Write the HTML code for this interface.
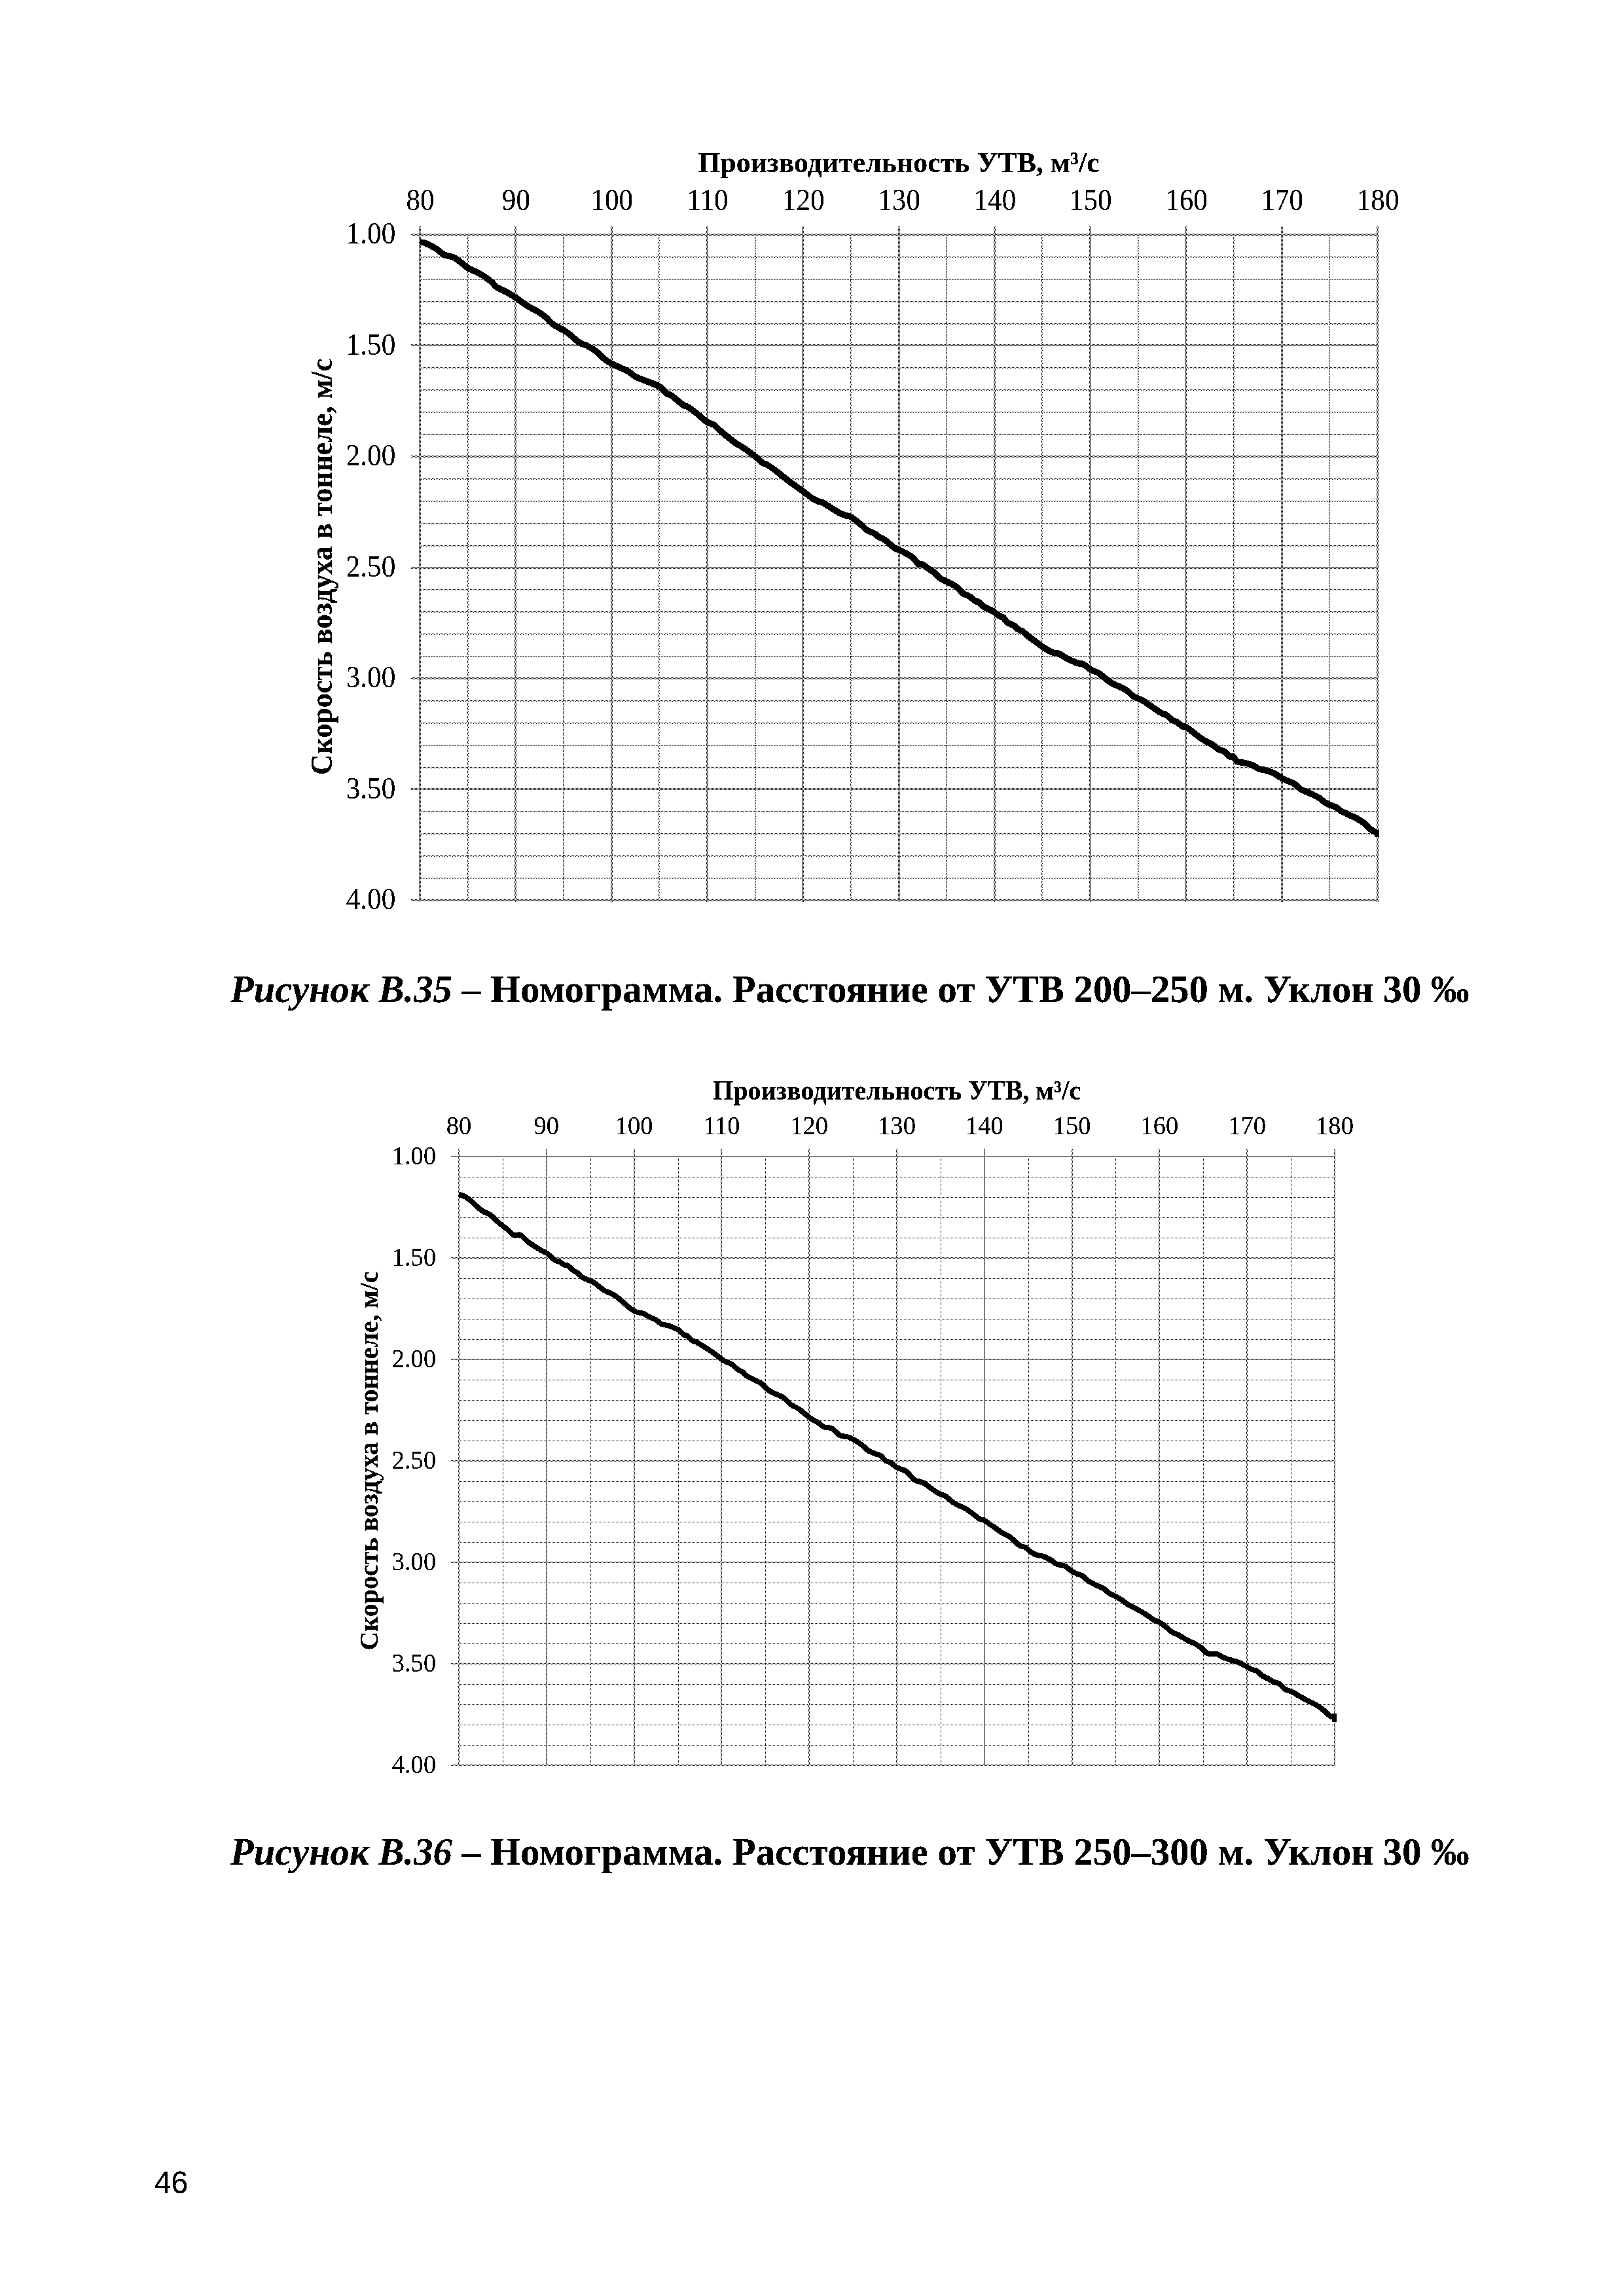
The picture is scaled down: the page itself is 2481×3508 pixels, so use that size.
<!DOCTYPE html>
<html lang="ru"><head><meta charset="utf-8"><title>p46</title>
<style>
html,body{margin:0;padding:0;background:#fff;}
body{width:2481px;height:3508px;position:relative;overflow:hidden;font-family:"Liberation Serif",serif;color:#000;}
svg{position:absolute;left:0;top:0;}
text{font-family:"Liberation Serif",serif;fill:#000;}
.b{font-weight:bold;}
.bi{font-weight:bold;font-style:italic;}
.sans{font-family:"Liberation Sans",sans-serif;}
</style></head><body>
<svg width="2481" height="3508" viewBox="0 0 2481 3508">
<defs>
<pattern id="chk" width="2" height="2" patternUnits="userSpaceOnUse"><rect x="0" y="0" width="1" height="1" fill="#000"/><rect x="1" y="1" width="1" height="1" fill="#000"/></pattern>
<pattern id="mh" width="4" height="2" patternUnits="userSpaceOnUse"><rect x="0" y="0" width="1" height="1" fill="#000"/><rect x="2" y="0" width="1" height="1" fill="#000"/><rect x="1" y="1" width="1" height="1" fill="#000"/></pattern>
<pattern id="mv" width="2" height="4" patternUnits="userSpaceOnUse"><rect x="0" y="0" width="1" height="1" fill="#000"/><rect x="0" y="2" width="1" height="1" fill="#000"/><rect x="1" y="1" width="1" height="1" fill="#000"/></pattern>
<pattern id="dot" width="2" height="2" patternUnits="userSpaceOnUse"><rect x="0" y="0" width="1" height="1" fill="#000"/></pattern>
<filter id="bw" filterUnits="userSpaceOnUse" x="0" y="0" width="2481" height="3508" color-interpolation-filters="sRGB"><feComponentTransfer><feFuncA type="discrete" tableValues="0 0 1 1 1"/></feComponentTransfer></filter>
</defs>
<g shape-rendering="crispEdges">
<rect transform="translate(714 358)" width="2" height="1017" fill="url(#mv)"/>
<rect transform="translate(860 358)" width="2" height="1017" fill="url(#mv)"/>
<rect transform="translate(1006 358)" width="2" height="1017" fill="url(#mv)"/>
<rect transform="translate(1153 358)" width="2" height="1017" fill="url(#mv)"/>
<rect transform="translate(1299 358)" width="2" height="1017" fill="url(#mv)"/>
<rect transform="translate(1445 358)" width="2" height="1017" fill="url(#mv)"/>
<rect transform="translate(1591 358)" width="2" height="1017" fill="url(#mv)"/>
<rect transform="translate(1738 358)" width="2" height="1017" fill="url(#mv)"/>
<rect transform="translate(1884 358)" width="2" height="1017" fill="url(#mv)"/>
<rect transform="translate(2030 358)" width="2" height="1017" fill="url(#mv)"/>
<rect transform="translate(642 392)" width="1463" height="2" fill="url(#mh)"/>
<rect transform="translate(642 426)" width="1463" height="2" fill="url(#mh)"/>
<rect transform="translate(642 460)" width="1463" height="2" fill="url(#mh)"/>
<rect transform="translate(642 494)" width="1463" height="2" fill="url(#mh)"/>
<rect transform="translate(642 561)" width="1463" height="2" fill="url(#mh)"/>
<rect transform="translate(642 595)" width="1463" height="2" fill="url(#mh)"/>
<rect transform="translate(642 629)" width="1463" height="2" fill="url(#mh)"/>
<rect transform="translate(642 663)" width="1463" height="2" fill="url(#mh)"/>
<rect transform="translate(642 731)" width="1463" height="2" fill="url(#mh)"/>
<rect transform="translate(642 765)" width="1463" height="2" fill="url(#mh)"/>
<rect transform="translate(642 799)" width="1463" height="2" fill="url(#mh)"/>
<rect transform="translate(642 833)" width="1463" height="2" fill="url(#mh)"/>
<rect transform="translate(642 900)" width="1463" height="2" fill="url(#mh)"/>
<rect transform="translate(642 934)" width="1463" height="2" fill="url(#mh)"/>
<rect transform="translate(642 968)" width="1463" height="2" fill="url(#mh)"/>
<rect transform="translate(642 1002)" width="1463" height="2" fill="url(#mh)"/>
<rect transform="translate(642 1070)" width="1463" height="2" fill="url(#mh)"/>
<rect transform="translate(642 1104)" width="1463" height="2" fill="url(#mh)"/>
<rect transform="translate(642 1138)" width="1463" height="2" fill="url(#mh)"/>
<rect transform="translate(642 1172)" width="1463" height="2" fill="url(#mh)"/>
<rect transform="translate(642 1239)" width="1463" height="2" fill="url(#mh)"/>
<rect transform="translate(642 1273)" width="1463" height="2" fill="url(#mh)"/>
<rect transform="translate(642 1307)" width="1463" height="2" fill="url(#mh)"/>
<rect transform="translate(642 1341)" width="1463" height="2" fill="url(#mh)"/>
<rect x="640" y="346" width="3" height="1032" fill="#fff"/>
<rect x="786" y="346" width="3" height="1032" fill="#fff"/>
<rect x="933" y="346" width="3" height="1032" fill="#fff"/>
<rect x="1079" y="346" width="3" height="1032" fill="#fff"/>
<rect x="1225" y="346" width="3" height="1032" fill="#fff"/>
<rect x="1372" y="346" width="3" height="1032" fill="#fff"/>
<rect x="1518" y="346" width="3" height="1032" fill="#fff"/>
<rect x="1664" y="346" width="3" height="1032" fill="#fff"/>
<rect x="1810" y="346" width="3" height="1032" fill="#fff"/>
<rect x="1957" y="346" width="3" height="1032" fill="#fff"/>
<rect x="2103" y="346" width="3" height="1032" fill="#fff"/>
<rect x="628" y="357" width="1478" height="3" fill="#fff"/>
<rect x="628" y="526" width="1478" height="3" fill="#fff"/>
<rect x="628" y="696" width="1478" height="3" fill="#fff"/>
<rect x="628" y="866" width="1478" height="3" fill="#fff"/>
<rect x="628" y="1035" width="1478" height="3" fill="#fff"/>
<rect x="628" y="1204" width="1478" height="3" fill="#fff"/>
<rect x="628" y="1374" width="1478" height="3" fill="#fff"/>
<rect x="640" y="346" width="3" height="1032" fill="url(#chk)"/>
<rect x="786" y="346" width="3" height="1032" fill="url(#chk)"/>
<rect x="933" y="346" width="3" height="1032" fill="url(#chk)"/>
<rect x="1079" y="346" width="3" height="1032" fill="url(#chk)"/>
<rect x="1225" y="346" width="3" height="1032" fill="url(#chk)"/>
<rect x="1372" y="346" width="3" height="1032" fill="url(#chk)"/>
<rect x="1518" y="346" width="3" height="1032" fill="url(#chk)"/>
<rect x="1664" y="346" width="3" height="1032" fill="url(#chk)"/>
<rect x="1810" y="346" width="3" height="1032" fill="url(#chk)"/>
<rect x="1957" y="346" width="3" height="1032" fill="url(#chk)"/>
<rect x="2103" y="346" width="3" height="1032" fill="url(#chk)"/>
<rect x="628" y="357" width="1478" height="3" fill="url(#chk)"/>
<rect x="628" y="526" width="1478" height="3" fill="url(#chk)"/>
<rect x="628" y="696" width="1478" height="3" fill="url(#chk)"/>
<rect x="628" y="866" width="1478" height="3" fill="url(#chk)"/>
<rect x="628" y="1035" width="1478" height="3" fill="url(#chk)"/>
<rect x="628" y="1204" width="1478" height="3" fill="url(#chk)"/>
<rect x="628" y="1374" width="1478" height="3" fill="url(#chk)"/>
</g>
<g shape-rendering="crispEdges">
<rect transform="translate(768 1767)" width="1" height="930" fill="url(#dot)"/>
<rect transform="translate(902 1767)" width="1" height="930" fill="url(#dot)"/>
<rect transform="translate(1036 1767)" width="1" height="930" fill="url(#dot)"/>
<rect transform="translate(1169 1767)" width="1" height="930" fill="url(#dot)"/>
<rect transform="translate(1303 1767)" width="1" height="930" fill="url(#dot)"/>
<rect transform="translate(1437 1767)" width="1" height="930" fill="url(#dot)"/>
<rect transform="translate(1571 1767)" width="1" height="930" fill="url(#dot)"/>
<rect transform="translate(1704 1767)" width="1" height="930" fill="url(#dot)"/>
<rect transform="translate(1838 1767)" width="1" height="930" fill="url(#dot)"/>
<rect transform="translate(1972 1767)" width="1" height="930" fill="url(#dot)"/>
<rect transform="translate(701 1798)" width="1338" height="1" fill="url(#dot)"/>
<rect transform="translate(701 1829)" width="1338" height="1" fill="url(#dot)"/>
<rect transform="translate(701 1860)" width="1338" height="1" fill="url(#dot)"/>
<rect transform="translate(701 1891)" width="1338" height="1" fill="url(#dot)"/>
<rect transform="translate(701 1953)" width="1338" height="1" fill="url(#dot)"/>
<rect transform="translate(701 1984)" width="1338" height="1" fill="url(#dot)"/>
<rect transform="translate(701 2015)" width="1338" height="1" fill="url(#dot)"/>
<rect transform="translate(701 2046)" width="1338" height="1" fill="url(#dot)"/>
<rect transform="translate(701 2108)" width="1338" height="1" fill="url(#dot)"/>
<rect transform="translate(701 2139)" width="1338" height="1" fill="url(#dot)"/>
<rect transform="translate(701 2170)" width="1338" height="1" fill="url(#dot)"/>
<rect transform="translate(701 2201)" width="1338" height="1" fill="url(#dot)"/>
<rect transform="translate(701 2263)" width="1338" height="1" fill="url(#dot)"/>
<rect transform="translate(701 2294)" width="1338" height="1" fill="url(#dot)"/>
<rect transform="translate(701 2325)" width="1338" height="1" fill="url(#dot)"/>
<rect transform="translate(701 2356)" width="1338" height="1" fill="url(#dot)"/>
<rect transform="translate(701 2418)" width="1338" height="1" fill="url(#dot)"/>
<rect transform="translate(701 2449)" width="1338" height="1" fill="url(#dot)"/>
<rect transform="translate(701 2480)" width="1338" height="1" fill="url(#dot)"/>
<rect transform="translate(701 2511)" width="1338" height="1" fill="url(#dot)"/>
<rect transform="translate(701 2573)" width="1338" height="1" fill="url(#dot)"/>
<rect transform="translate(701 2604)" width="1338" height="1" fill="url(#dot)"/>
<rect transform="translate(701 2635)" width="1338" height="1" fill="url(#dot)"/>
<rect transform="translate(701 2666)" width="1338" height="1" fill="url(#dot)"/>
<rect x="700" y="1755" width="2" height="943" fill="#fff"/>
<rect x="834" y="1755" width="2" height="943" fill="#fff"/>
<rect x="968" y="1755" width="2" height="943" fill="#fff"/>
<rect x="1101" y="1755" width="2" height="943" fill="#fff"/>
<rect x="1235" y="1755" width="2" height="943" fill="#fff"/>
<rect x="1369" y="1755" width="2" height="943" fill="#fff"/>
<rect x="1503" y="1755" width="2" height="943" fill="#fff"/>
<rect x="1637" y="1755" width="2" height="943" fill="#fff"/>
<rect x="1770" y="1755" width="2" height="943" fill="#fff"/>
<rect x="1904" y="1755" width="2" height="943" fill="#fff"/>
<rect x="2038" y="1755" width="2" height="943" fill="#fff"/>
<rect x="689" y="1766" width="1351" height="2" fill="#fff"/>
<rect x="689" y="1921" width="1351" height="2" fill="#fff"/>
<rect x="689" y="2076" width="1351" height="2" fill="#fff"/>
<rect x="689" y="2231" width="1351" height="2" fill="#fff"/>
<rect x="689" y="2386" width="1351" height="2" fill="#fff"/>
<rect x="689" y="2541" width="1351" height="2" fill="#fff"/>
<rect x="689" y="2696" width="1351" height="2" fill="#fff"/>
<rect x="700" y="1755" width="2" height="943" fill="url(#chk)"/>
<rect x="834" y="1755" width="2" height="943" fill="url(#chk)"/>
<rect x="968" y="1755" width="2" height="943" fill="url(#chk)"/>
<rect x="1101" y="1755" width="2" height="943" fill="url(#chk)"/>
<rect x="1235" y="1755" width="2" height="943" fill="url(#chk)"/>
<rect x="1369" y="1755" width="2" height="943" fill="url(#chk)"/>
<rect x="1503" y="1755" width="2" height="943" fill="url(#chk)"/>
<rect x="1637" y="1755" width="2" height="943" fill="url(#chk)"/>
<rect x="1770" y="1755" width="2" height="943" fill="url(#chk)"/>
<rect x="1904" y="1755" width="2" height="943" fill="url(#chk)"/>
<rect x="2038" y="1755" width="2" height="943" fill="url(#chk)"/>
<rect x="689" y="1766" width="1351" height="2" fill="url(#chk)"/>
<rect x="689" y="1921" width="1351" height="2" fill="url(#chk)"/>
<rect x="689" y="2076" width="1351" height="2" fill="url(#chk)"/>
<rect x="689" y="2231" width="1351" height="2" fill="url(#chk)"/>
<rect x="689" y="2386" width="1351" height="2" fill="url(#chk)"/>
<rect x="689" y="2541" width="1351" height="2" fill="url(#chk)"/>
<rect x="689" y="2696" width="1351" height="2" fill="url(#chk)"/>
</g>
<g filter="url(#bw)">
<path d="M641.6 370.2C643.1 370.4 646.7 370.1 650.8 371.7C654.9 373.4 661.6 377.1 666.2 380.0C670.8 382.9 674.1 387.1 678.5 389.3C682.9 391.4 688.2 391.2 692.4 393.0C696.5 394.8 699.4 397.3 703.1 400.0C706.8 402.8 709.9 406.5 714.5 409.3C719.1 412.1 725.0 413.6 730.8 417.0C736.6 420.3 744.7 425.7 749.3 429.3C753.9 432.9 754.4 435.7 758.5 438.5C762.7 441.3 769.1 443.6 773.9 446.2C778.8 448.9 782.7 451.1 787.8 454.5C792.9 458.0 798.8 463.1 804.7 466.8C810.6 470.6 818.1 473.8 823.2 477.0C828.3 480.2 831.9 483.2 835.5 486.2C839.1 489.3 839.6 491.9 844.8 495.5C849.9 499.1 859.6 503.2 866.3 507.8C873.0 512.4 879.6 519.8 884.8 523.2C889.9 526.6 892.7 526.1 897.1 528.4C901.5 530.7 906.6 533.7 910.9 537.0C915.3 540.4 919.4 545.4 923.3 548.4C927.1 551.5 928.1 552.4 934.0 555.5C939.9 558.6 952.5 563.6 958.7 566.9C964.8 570.2 965.9 572.8 971.0 575.5C976.1 578.2 983.3 580.7 989.5 583.2C995.6 585.8 1003.1 587.9 1007.9 590.9C1012.8 593.9 1015.6 598.8 1018.7 601.1C1021.8 603.4 1022.3 601.9 1026.4 604.8C1030.5 607.7 1039.2 615.8 1043.3 618.6C1047.4 621.5 1047.7 619.7 1051.0 621.7C1054.4 623.8 1058.5 627.1 1063.3 630.9C1068.2 634.8 1075.7 641.7 1080.3 644.8C1084.9 647.9 1087.5 647.0 1091.1 649.4C1094.6 651.8 1096.5 654.8 1101.5 659.1C1106.6 663.4 1115.9 671.2 1121.6 675.4C1127.2 679.6 1130.0 680.3 1135.4 684.0C1140.8 687.7 1149.0 693.7 1153.9 697.6C1158.8 701.4 1161.6 705.0 1164.7 707.1C1167.7 709.2 1168.8 708.0 1172.4 710.2C1175.9 712.4 1180.3 715.6 1186.2 720.0C1192.1 724.5 1201.1 732.0 1207.8 737.0C1214.4 742.0 1220.8 746.3 1226.2 750.2C1231.6 754.2 1236.0 758.0 1240.1 760.7C1244.2 763.4 1248.0 765.1 1250.9 766.2C1253.7 767.4 1254.5 766.5 1257.0 767.8C1259.6 769.1 1262.2 771.4 1266.3 773.9C1270.4 776.5 1277.3 780.9 1281.7 783.2C1286.0 785.5 1289.3 786.7 1292.4 787.8C1295.5 788.9 1296.0 787.4 1300.1 789.9C1304.2 792.5 1313.0 799.8 1317.1 803.2C1321.2 806.6 1321.7 808.3 1324.8 810.3C1327.8 812.2 1332.5 813.1 1335.5 814.9C1338.6 816.6 1340.4 819.0 1343.2 820.7C1346.0 822.5 1348.6 822.6 1352.5 825.3C1356.3 828.1 1362.0 834.2 1366.3 837.0C1370.7 839.9 1374.0 840.1 1378.6 842.6C1383.3 845.0 1389.9 848.6 1394.0 851.8C1398.1 855.0 1400.7 859.9 1403.3 861.7C1405.8 863.4 1407.1 861.3 1409.4 862.3C1411.7 863.3 1414.3 865.9 1417.1 867.8C1419.9 869.8 1423.0 871.3 1426.4 874.0C1429.7 876.7 1433.5 881.6 1437.1 884.2C1440.7 886.7 1443.8 887.2 1447.9 889.4C1452.0 891.5 1457.9 894.3 1461.8 897.1C1465.6 899.9 1467.7 903.9 1471.0 906.3C1474.3 908.7 1478.7 909.6 1481.8 911.6C1484.9 913.5 1487.2 916.6 1489.5 918.0C1491.8 919.5 1493.3 918.6 1495.6 920.2C1497.9 921.7 1499.7 924.9 1503.3 927.3C1506.9 929.6 1513.3 931.7 1517.2 934.0C1521.0 936.3 1523.9 939.6 1526.4 941.1C1529.0 942.6 1530.5 941.6 1532.6 943.3C1534.6 944.9 1535.9 948.8 1538.7 951.0C1541.6 953.1 1546.7 954.4 1549.5 956.2C1552.3 958.0 1553.6 960.4 1555.7 961.7C1557.7 963.1 1559.3 962.4 1561.8 964.2C1564.4 966.0 1567.8 969.9 1571.1 972.5C1574.4 975.1 1577.7 977.0 1581.7 980.0C1585.6 982.9 1590.3 987.0 1595.0 989.9C1599.7 992.9 1606.3 996.2 1609.9 997.6C1613.5 999.0 1613.3 996.9 1616.6 998.2C1619.9 999.6 1624.9 1003.4 1629.9 1005.9C1634.9 1008.4 1642.3 1011.7 1646.5 1013.2C1650.7 1014.7 1651.2 1013.0 1654.8 1014.9C1658.4 1016.7 1664.0 1021.8 1668.1 1024.2C1672.3 1026.6 1675.0 1026.1 1679.8 1029.2C1684.5 1032.2 1689.7 1038.4 1696.4 1042.5C1703.0 1046.6 1713.8 1050.2 1719.7 1053.8C1725.5 1057.3 1726.9 1060.9 1731.3 1063.7C1735.7 1066.6 1739.3 1066.6 1746.3 1070.7C1753.2 1074.9 1767.0 1085.1 1772.9 1088.7C1778.7 1092.2 1778.1 1090.1 1781.2 1092.0C1784.2 1093.9 1788.4 1098.5 1791.1 1100.3C1793.9 1102.1 1795.3 1101.4 1797.8 1103.0C1800.3 1104.5 1803.6 1108.2 1806.1 1109.6C1808.6 1111.0 1807.8 1108.1 1812.8 1111.3C1817.7 1114.5 1829.7 1124.6 1836.0 1128.9C1842.4 1133.2 1846.8 1134.3 1851.0 1136.9C1855.2 1139.5 1857.6 1142.6 1861.0 1144.5C1864.3 1146.5 1868.0 1146.6 1870.9 1148.5C1873.9 1150.5 1876.4 1154.9 1878.6 1156.2C1880.8 1157.5 1882.4 1154.9 1884.2 1156.2C1886.1 1157.5 1887.4 1162.3 1889.9 1163.8C1892.4 1165.3 1895.2 1164.2 1899.2 1165.2C1903.3 1166.1 1910.3 1167.9 1914.2 1169.5C1918.1 1171.0 1919.4 1173.3 1922.5 1174.5C1925.5 1175.7 1928.6 1175.7 1932.5 1176.8C1936.3 1177.9 1941.3 1179.0 1945.8 1181.1C1950.2 1183.2 1953.8 1186.7 1959.1 1189.4C1964.3 1192.2 1972.6 1195.0 1977.4 1197.7C1982.1 1200.5 1983.7 1203.8 1987.3 1206.1C1990.9 1208.3 1994.3 1208.8 1999.0 1211.0C2003.7 1213.3 2011.2 1216.7 2015.6 1219.4C2020.0 1222.0 2021.4 1224.7 2025.6 1227.0C2029.7 1229.3 2036.7 1231.3 2040.5 1233.3C2044.4 1235.4 2046.3 1237.9 2048.8 1239.3C2051.3 1240.8 2053.3 1240.9 2055.5 1242.0C2057.7 1243.1 2059.9 1244.9 2062.1 1246.0C2064.4 1247.0 2064.9 1246.2 2068.8 1248.3C2072.7 1250.4 2081.5 1255.7 2085.4 1258.6C2089.3 1261.5 2089.0 1263.6 2092.1 1265.9C2095.1 1268.2 2101.8 1271.5 2103.7 1272.6" fill="none" stroke="#000" stroke-width="9.5" stroke-linejoin="round" stroke-linecap="butt"/>
<text transform="translate(642.1 321.0) scale(0.950 1)" font-size="45.4" text-anchor="middle">80</text>
<text transform="translate(788.4 321.0) scale(0.950 1)" font-size="45.4" text-anchor="middle">90</text>
<text transform="translate(934.7 321.0) scale(0.950 1)" font-size="45.4" text-anchor="middle">100</text>
<text transform="translate(1081.0 321.0) scale(0.950 1)" font-size="45.4" text-anchor="middle">110</text>
<text transform="translate(1227.3 321.0) scale(0.950 1)" font-size="45.4" text-anchor="middle">120</text>
<text transform="translate(1373.6 321.0) scale(0.950 1)" font-size="45.4" text-anchor="middle">130</text>
<text transform="translate(1519.9 321.0) scale(0.950 1)" font-size="45.4" text-anchor="middle">140</text>
<text transform="translate(1666.2 321.0) scale(0.950 1)" font-size="45.4" text-anchor="middle">150</text>
<text transform="translate(1812.5 321.0) scale(0.950 1)" font-size="45.4" text-anchor="middle">160</text>
<text transform="translate(1958.8 321.0) scale(0.950 1)" font-size="45.4" text-anchor="middle">170</text>
<text transform="translate(2105.1 321.0) scale(0.950 1)" font-size="45.4" text-anchor="middle">180</text>
<text transform="translate(604.2 372.1) scale(0.950 1)" font-size="45.4" text-anchor="end">1.00</text>
<text transform="translate(604.2 541.6) scale(0.950 1)" font-size="45.4" text-anchor="end">1.50</text>
<text transform="translate(604.2 711.1) scale(0.950 1)" font-size="45.4" text-anchor="end">2.00</text>
<text transform="translate(604.2 880.6) scale(0.950 1)" font-size="45.4" text-anchor="end">2.50</text>
<text transform="translate(604.2 1050.1) scale(0.950 1)" font-size="45.4" text-anchor="end">3.00</text>
<text transform="translate(604.2 1219.6) scale(0.950 1)" font-size="45.4" text-anchor="end">3.50</text>
<text transform="translate(604.2 1389.1) scale(0.950 1)" font-size="45.4" text-anchor="end">4.00</text>
<text class="b" x="1373.0" y="262.8" font-size="45.0" text-anchor="middle" textLength="613.5" lengthAdjust="spacingAndGlyphs">Производительность УТВ, м³/с</text>
<text class="b" transform="translate(506.8 866.0) rotate(-90)" font-size="46.2" text-anchor="middle" textLength="636.0" lengthAdjust="spacingAndGlyphs">Скорость воздуха в тоннеле, м/с</text>
<rect x="2100.5" y="1268" width="6.5" height="11" fill="#000"/>
<path d="M700.9 1824.8C702.6 1825.4 707.6 1826.8 710.8 1828.5C714.0 1830.3 716.7 1832.5 720.0 1835.3C723.4 1838.1 727.7 1842.8 730.8 1845.4C733.9 1848.1 735.4 1849.2 738.5 1851.0C741.6 1852.8 745.7 1853.7 749.3 1856.2C752.9 1858.8 756.7 1863.4 760.0 1866.4C763.4 1869.4 766.7 1872.1 769.3 1874.1C771.9 1876.1 772.9 1876.2 775.4 1878.4C778.0 1880.5 781.3 1885.6 784.7 1887.0C788.0 1888.4 791.9 1885.3 795.5 1887.0C799.0 1888.7 802.9 1894.4 806.2 1897.2C809.6 1899.9 811.9 1901.0 815.5 1903.3C819.1 1905.6 824.4 1909.1 827.8 1911.0C831.1 1912.9 832.1 1912.3 835.5 1914.7C838.8 1917.1 844.5 1923.3 847.8 1925.5C851.1 1927.7 853.2 1926.8 855.5 1928.0C857.8 1929.1 859.6 1931.3 861.7 1932.3C863.7 1933.2 865.5 1932.4 867.8 1933.8C870.1 1935.2 873.2 1939.1 875.5 1940.9C877.8 1942.7 879.1 1942.7 881.7 1944.6C884.2 1946.5 888.1 1950.4 890.9 1952.3C893.7 1954.1 895.8 1954.4 898.6 1955.7C901.4 1956.9 903.7 1957.3 907.8 1960.0C911.9 1962.6 919.1 1969.1 923.2 1971.7C927.3 1974.3 929.4 1974.1 932.5 1975.7C935.5 1977.2 938.4 1978.5 941.7 1980.9C945.0 1983.3 948.9 1987.1 952.5 1990.1C956.1 1993.2 959.9 1997.0 963.3 1999.4C966.6 2001.8 969.2 2003.3 972.5 2004.6C975.8 2005.9 980.2 2005.9 983.3 2007.1C986.3 2008.3 987.9 2010.2 991.0 2011.7C994.0 2013.2 998.4 2014.4 1001.7 2016.3C1005.1 2018.3 1007.9 2022.0 1011.0 2023.4C1014.1 2024.8 1017.4 2024.2 1020.2 2024.9C1023.0 2025.7 1025.1 2026.8 1027.9 2028.0C1030.7 2029.2 1034.3 2030.4 1037.1 2032.3C1040.0 2034.2 1042.5 2037.8 1044.8 2039.4C1047.1 2041.0 1048.9 2040.4 1051.0 2041.9C1053.1 2043.3 1055.1 2046.6 1057.2 2048.0C1059.2 2049.4 1061.0 2049.1 1063.3 2050.2C1065.6 2051.3 1067.7 2052.8 1071.0 2054.8C1074.3 2056.9 1079.5 2059.9 1083.3 2062.5C1087.2 2065.1 1090.3 2067.4 1094.1 2070.2C1097.9 2073.0 1102.6 2077.1 1106.4 2079.4C1110.3 2081.7 1113.9 2082.0 1117.2 2084.1C1120.5 2086.1 1123.3 2089.6 1126.4 2091.7C1129.5 2093.9 1133.4 2095.3 1135.7 2097.0C1137.9 2098.6 1135.4 2098.7 1140.0 2101.6C1144.6 2104.4 1157.4 2110.1 1163.1 2113.9C1168.7 2117.6 1170.0 2121.3 1173.9 2124.0C1177.7 2126.8 1182.3 2128.3 1186.2 2130.2C1190.0 2132.1 1193.1 2132.7 1197.0 2135.4C1200.8 2138.2 1205.4 2144.0 1209.3 2146.8C1213.1 2149.6 1215.4 2149.1 1220.0 2152.4C1224.7 2155.6 1232.1 2162.7 1237.0 2166.2C1241.9 2169.7 1245.7 2171.0 1249.3 2173.3C1252.9 2175.6 1254.9 2178.5 1258.5 2180.1C1262.1 2181.6 1266.7 2180.4 1270.8 2182.5C1275.0 2184.7 1279.1 2190.8 1283.2 2193.0C1287.3 2195.2 1291.6 2194.2 1295.5 2195.5C1299.3 2196.8 1302.4 2198.4 1306.3 2200.7C1310.1 2203.0 1315.2 2206.7 1318.6 2209.3C1321.9 2211.9 1323.2 2214.5 1326.3 2216.4C1329.3 2218.4 1333.7 2219.6 1337.0 2221.0C1340.4 2222.4 1343.7 2223.0 1346.3 2224.7C1348.8 2226.5 1350.1 2229.8 1352.4 2231.5C1354.7 2233.1 1357.3 2232.9 1360.1 2234.6C1363.0 2236.3 1365.3 2239.3 1369.4 2241.7C1373.5 2244.0 1380.1 2245.2 1384.8 2248.4C1389.4 2251.7 1392.7 2258.2 1397.1 2261.0C1401.4 2263.9 1407.1 2263.8 1410.9 2265.7C1414.8 2267.6 1416.3 2269.8 1420.2 2272.4C1424.0 2275.1 1429.9 2279.4 1434.0 2281.7C1438.1 2284.0 1441.5 2284.2 1444.8 2286.3C1448.1 2288.3 1451.0 2291.8 1454.0 2294.0C1457.1 2296.2 1459.7 2297.6 1463.3 2299.5C1466.9 2301.4 1471.7 2303.1 1475.6 2305.4C1479.4 2307.6 1482.8 2310.5 1486.4 2313.1C1490.0 2315.7 1494.3 2319.5 1497.1 2321.1C1500.0 2322.7 1500.5 2321.1 1503.3 2322.6C1506.1 2324.2 1511.3 2328.4 1514.1 2330.3C1516.9 2332.2 1517.7 2332.2 1520.2 2334.0C1522.8 2335.8 1525.6 2338.7 1529.5 2341.1C1533.3 2343.5 1538.7 2345.1 1543.3 2348.5C1547.9 2351.8 1553.3 2358.5 1557.2 2361.1C1561.0 2363.7 1563.3 2362.4 1566.4 2364.2C1569.5 2366.0 1572.6 2369.9 1575.7 2371.9C1578.7 2373.9 1581.8 2375.2 1584.9 2376.2C1588.0 2377.2 1590.8 2376.9 1594.1 2378.0C1597.5 2379.2 1601.8 2381.5 1604.9 2383.3C1608.0 2385.1 1610.0 2387.4 1612.6 2388.8C1615.2 2390.2 1618.0 2391.0 1620.3 2391.6C1622.6 2392.2 1624.4 2391.6 1626.5 2392.5C1628.5 2393.4 1629.8 2395.3 1632.6 2397.1C1635.4 2399.0 1639.6 2402.0 1643.1 2403.7C1646.6 2405.5 1650.8 2405.9 1653.9 2407.7C1657.0 2409.6 1658.2 2412.5 1661.6 2414.8C1664.9 2417.1 1669.8 2419.5 1673.9 2421.6C1678.0 2423.6 1682.9 2425.1 1686.2 2427.1C1689.5 2429.2 1690.8 2431.9 1693.9 2433.9C1697.0 2436.0 1701.3 2437.6 1704.7 2439.4C1708.0 2441.2 1710.8 2442.7 1713.9 2444.7C1717.0 2446.7 1719.0 2449.0 1723.2 2451.5C1727.3 2453.9 1733.7 2456.7 1738.5 2459.5C1743.4 2462.2 1748.6 2465.3 1752.4 2467.8C1756.2 2470.3 1758.3 2472.6 1761.6 2474.5C1765.0 2476.4 1769.1 2477.2 1772.4 2479.2C1775.7 2481.1 1778.6 2483.8 1781.7 2486.2C1784.7 2488.7 1787.8 2492.0 1790.9 2493.9C1794.0 2495.9 1796.3 2495.9 1800.1 2497.9C1804.0 2500.0 1809.6 2503.9 1814.0 2506.3C1818.3 2508.6 1822.7 2509.8 1826.3 2511.8C1829.9 2513.7 1832.5 2515.5 1835.5 2518.0C1838.6 2520.4 1840.9 2524.8 1844.8 2526.3C1848.6 2527.8 1854.8 2526.0 1858.6 2526.9C1862.5 2527.8 1864.3 2530.2 1867.9 2531.8C1871.4 2533.4 1876.3 2535.1 1880.2 2536.4C1884.0 2537.7 1887.1 2538.0 1890.9 2539.5C1894.8 2541.0 1899.7 2543.8 1903.3 2545.7C1906.9 2547.6 1909.7 2549.7 1912.5 2550.9C1915.3 2552.1 1917.6 2551.5 1920.2 2553.1C1922.8 2554.6 1925.1 2558.2 1927.9 2560.1C1930.7 2562.1 1934.1 2563.1 1937.1 2564.8C1940.2 2566.4 1943.5 2568.7 1946.4 2570.0C1949.2 2571.3 1951.2 2570.6 1954.1 2572.5C1956.9 2574.3 1960.0 2579.0 1963.3 2581.1C1966.6 2583.1 1970.5 2583.0 1974.1 2584.8C1977.7 2586.5 1981.0 2589.3 1984.9 2591.5C1988.7 2593.7 1993.1 2595.9 1997.2 2598.0C2001.3 2600.1 2005.1 2601.5 2009.5 2604.2C2013.8 2606.8 2019.5 2611.0 2023.3 2614.0C2027.2 2617.0 2030.0 2620.7 2032.6 2622.3C2035.1 2624.0 2037.7 2623.6 2038.7 2623.9" fill="none" stroke="#000" stroke-width="8.0" stroke-linejoin="round" stroke-linecap="butt"/>
<text transform="translate(701.0 1733.0) scale(0.955 1)" font-size="40.4" text-anchor="middle">80</text>
<text transform="translate(834.8 1733.0) scale(0.955 1)" font-size="40.4" text-anchor="middle">90</text>
<text transform="translate(968.6 1733.0) scale(0.955 1)" font-size="40.4" text-anchor="middle">100</text>
<text transform="translate(1102.4 1733.0) scale(0.955 1)" font-size="40.4" text-anchor="middle">110</text>
<text transform="translate(1236.2 1733.0) scale(0.955 1)" font-size="40.4" text-anchor="middle">120</text>
<text transform="translate(1370.0 1733.0) scale(0.955 1)" font-size="40.4" text-anchor="middle">130</text>
<text transform="translate(1503.8 1733.0) scale(0.955 1)" font-size="40.4" text-anchor="middle">140</text>
<text transform="translate(1637.6 1733.0) scale(0.955 1)" font-size="40.4" text-anchor="middle">150</text>
<text transform="translate(1771.4 1733.0) scale(0.955 1)" font-size="40.4" text-anchor="middle">160</text>
<text transform="translate(1905.2 1733.0) scale(0.955 1)" font-size="40.4" text-anchor="middle">170</text>
<text transform="translate(2039.0 1733.0) scale(0.955 1)" font-size="40.4" text-anchor="middle">180</text>
<text transform="translate(666.2 1779.3) scale(0.955 1)" font-size="40.4" text-anchor="end">1.00</text>
<text transform="translate(666.2 1934.3) scale(0.955 1)" font-size="40.4" text-anchor="end">1.50</text>
<text transform="translate(666.2 2089.3) scale(0.955 1)" font-size="40.4" text-anchor="end">2.00</text>
<text transform="translate(666.2 2244.3) scale(0.955 1)" font-size="40.4" text-anchor="end">2.50</text>
<text transform="translate(666.2 2399.3) scale(0.955 1)" font-size="40.4" text-anchor="end">3.00</text>
<text transform="translate(666.2 2554.3) scale(0.955 1)" font-size="40.4" text-anchor="end">3.50</text>
<text transform="translate(666.2 2709.3) scale(0.955 1)" font-size="40.4" text-anchor="end">4.00</text>
<text class="b" x="1370.0" y="1680.0" font-size="41.3" text-anchor="middle" textLength="562.0" lengthAdjust="spacingAndGlyphs">Производительность УТВ, м³/с</text>
<text class="b" transform="translate(577.4 2232.0) rotate(-90)" font-size="40.2" text-anchor="middle" textLength="579.0" lengthAdjust="spacingAndGlyphs">Скорость воздуха в тоннеле, м/с</text>
<rect x="2035" y="2618.5" width="7" height="12" fill="#000"/>
<text x="351.8" y="1530.5" font-size="58.3" textLength="1893" lengthAdjust="spacingAndGlyphs"><tspan class="bi">Рисунок В.35</tspan><tspan class="b"> – Номограмма. Расстояние от УТВ 200–250 м. Уклон 30 ‰</tspan></text>
<text x="351.8" y="2849.4" font-size="58.3" textLength="1893" lengthAdjust="spacingAndGlyphs"><tspan class="bi">Рисунок В.36</tspan><tspan class="b"> – Номограмма. Расстояние от УТВ 250–300 м. Уклон 30 ‰</tspan></text>
<text class="sans" transform="translate(235.8 3351) scale(0.975 1)" font-size="47.5">46</text>
</g>
</svg>
</body></html>
